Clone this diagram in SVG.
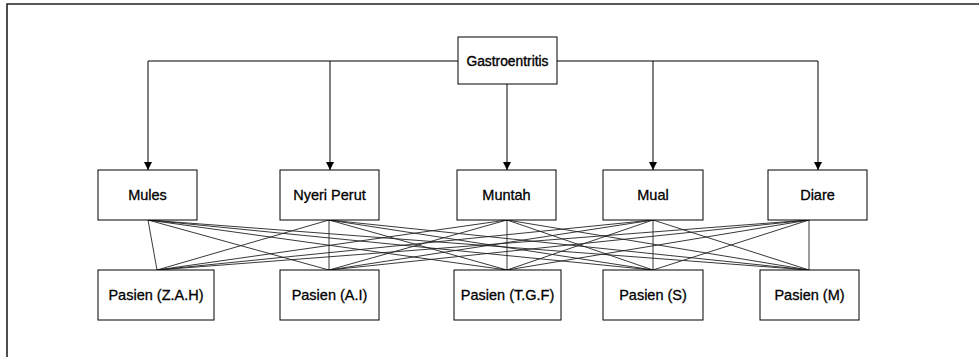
<svg xmlns="http://www.w3.org/2000/svg" width="979" height="357" viewBox="0 0 979 357">
<style>
.box{fill:#fff;stroke:#000;stroke-width:1}
.t{font-family:"Liberation Sans",Arial,sans-serif;font-size:14.5px;fill:#000;stroke:#000;stroke-width:0.3;text-anchor:middle}
.tg{font-family:"Liberation Sans",Arial,sans-serif;font-size:13.8px;fill:#000;stroke:#000;stroke-width:0.35;text-anchor:middle}
.e{fill:none;stroke:#000;stroke-width:1}
.x{fill:none;stroke:#222;stroke-width:0.9}
</style>
<defs>
<marker id="ah" viewBox="0 0 8 8" refX="8" refY="4" markerWidth="8" markerHeight="8" markerUnits="userSpaceOnUse" orient="auto">
<path d="M0,0 L8,4 L0,8 Z" fill="#000"/>
</marker>
</defs>
<rect width="979" height="357" fill="#fff"/>
<path d="M7,357 V4 H979" fill="none" stroke="#222" stroke-width="1.6"/>
<g id="connectors">
<path class="e" d="M458,61 H148 V170" marker-end="url(#ah)"/>
<path class="e" d="M330,61 V170" marker-end="url(#ah)"/>
<path class="e" d="M507,84 V170" marker-end="url(#ah)"/>
<path class="e" d="M557,61 H818 V170" marker-end="url(#ah)"/>
<path class="e" d="M653,61 V170" marker-end="url(#ah)"/>
<g class="x">
<path d="M148,220 L157,270 M148,220 L329,270 M148,220 L507,270 M148,220 L653,270 M148,220 L809,270"/>
<path d="M329,220 L157,270 M329,220 L329,270 M329,220 L507,270 M329,220 L653,270 M329,220 L809,270"/>
<path d="M507,220 L157,270 M507,220 L329,270 M507,220 L507,270 M507,220 L653,270 M507,220 L809,270"/>
<path d="M653,220 L157,270 M653,220 L329,270 M653,220 L507,270 M653,220 L653,270 M653,220 L809,270"/>
<path d="M809,220 L157,270 M809,220 L329,270 M809,220 L507,270 M809,220 L653,270 M809,220 L809,270"/>
</g>
</g>
<g id="gastroentritis"><rect class="box" x="458" y="37" width="99" height="47"/><text class="tg" x="507.5" y="66">Gastroentritis</text></g>
<g id="mules"><rect class="box" x="98" y="170" width="99" height="50"/><text class="t" x="147.5" y="200">Mules</text></g>
<g id="nyeri-perut"><rect class="box" x="280" y="170" width="99" height="50"/><text class="t" x="329.5" y="200">Nyeri Perut</text></g>
<g id="muntah"><rect class="box" x="457" y="170" width="99" height="50"/><text class="t" x="506.5" y="200">Muntah</text></g>
<g id="mual"><rect class="box" x="603" y="170" width="100" height="50"/><text class="t" x="653" y="200">Mual</text></g>
<g id="diare"><rect class="box" x="768" y="170" width="99" height="50"/><text class="t" x="817.5" y="200">Diare</text></g>
<g id="pasien-zah"><rect class="box" x="98" y="270" width="116" height="50"/><text class="t" x="156" y="300">Pasien (Z.A.H)</text></g>
<g id="pasien-ai"><rect class="box" x="280" y="270" width="99" height="50"/><text class="t" x="329.5" y="300">Pasien (A.I)</text></g>
<g id="pasien-tgf"><rect class="box" x="454" y="270" width="107" height="50"/><text class="t" x="507.5" y="300">Pasien (T.G.F)</text></g>
<g id="pasien-s"><rect class="box" x="603" y="270" width="100" height="50"/><text class="t" x="653" y="300">Pasien (S)</text></g>
<g id="pasien-m"><rect class="box" x="760" y="270" width="99" height="50"/><text class="t" x="809.5" y="300">Pasien (M)</text></g>
</svg>
